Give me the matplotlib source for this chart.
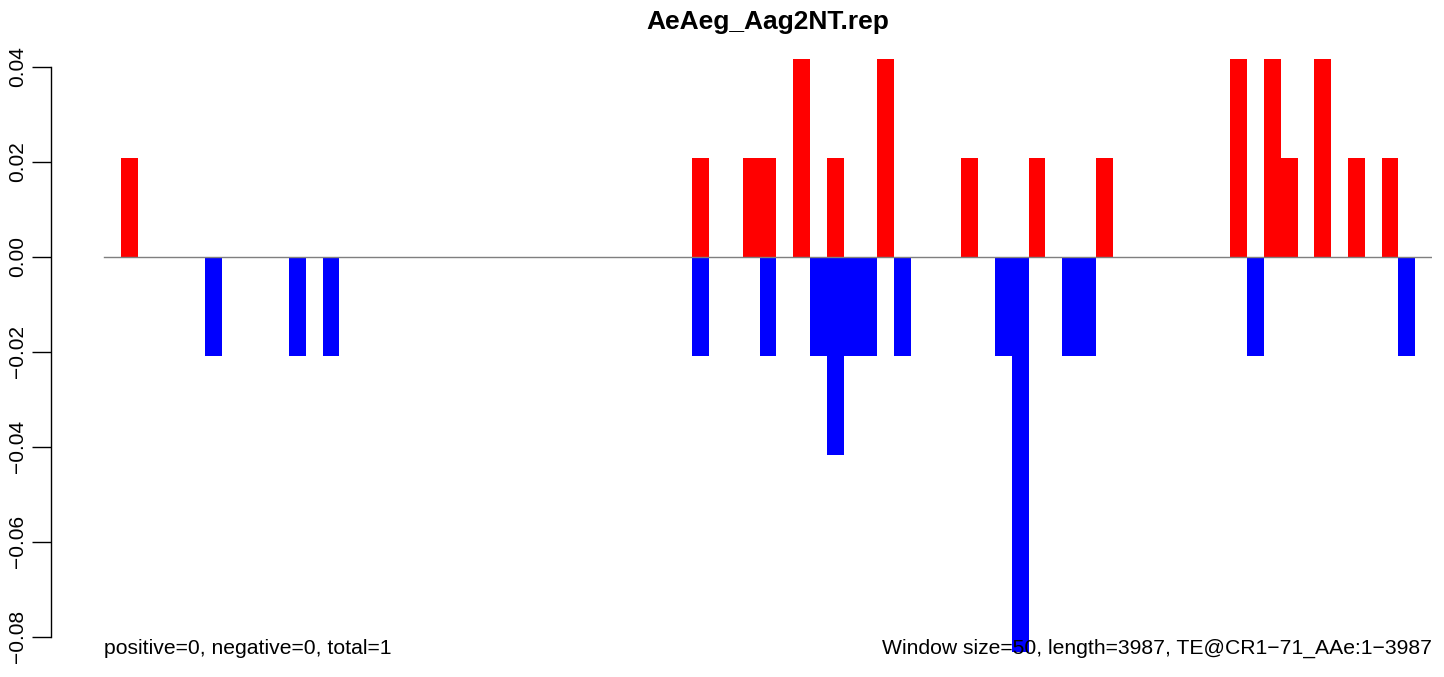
import matplotlib
matplotlib.use('Agg')
import matplotlib.pyplot as plt

plt.rcParams['font.family'] = ['Liberation Sans', 'DejaVu Sans']

# window index (50 bp windows) and values
n_windows = 79
pos_bins = [1, 35, 38, 39, 41, 43, 46, 51, 55, 59, 67, 69, 70, 72, 74, 76]
pos_vals = [0.02083, 0.02083, 0.02083, 0.02083, 0.04167, 0.02083, 0.04167, 0.02083,
            0.02083, 0.02083, 0.04167, 0.04167, 0.02083, 0.04167, 0.02083, 0.02083]
neg_bins = [6, 11, 13, 35, 39, 42, 43, 44, 45, 47, 53, 54, 57, 58, 68, 77]
neg_vals = [-0.02083, -0.02083, -0.02083, -0.02083, -0.02083, -0.02083, -0.04167, -0.02083,
            -0.02083, -0.02083, -0.02083, -0.08333, -0.02083, -0.02083, -0.02083, -0.02083]
yticks = [-0.08, -0.06, -0.04, -0.02, 0.00, 0.02, 0.04]

title = 'AeAeg_Aag2NT.rep'
left_note = 'positive=0, negative=0, total=1'
right_note = 'Window size=50, length=3987, TE@CR1\u221271_AAe:1\u22123987'

W, H = 1444, 677
fig = plt.figure(figsize=(W / 100, H / 100), dpi=100)
# plot region in pixels: x 51..1432, y 35..676
ax = fig.add_axes([51 / W, 1 / H, (1432 - 51) / W, (676 - 35) / H])

ax.bar(pos_bins, pos_vals, width=1, align='edge', color='red', linewidth=0)
ax.bar(neg_bins, neg_vals, width=1, align='edge', color='blue', linewidth=0)
ax.plot([0, n_windows], [0, 0], color='#7f7f7f', linewidth=1)

ax.set_xlim(-53 / 16.81, n_windows)
ax.set_ylim(-0.0883, 0.0467)

for s in ['top', 'right', 'bottom']:
    ax.spines[s].set_visible(False)
ax.spines['left'].set_bounds(-0.08, 0.04)
ax.spines['left'].set_linewidth(1)
ax.set_xticks([])
ax.set_yticks(yticks)
ax.set_yticklabels([f'{v:.2f}'.replace('-', '\u2212') for v in yticks],
                   rotation=90, va='center', fontsize=15)
ax.tick_params(axis='y', length=14, width=1, pad=3)

fig.text(768 / W, 1 - 22 / H, title, ha='center', va='center',
         fontsize=19, fontweight='bold')
fig.text(104 / W, 1 - 648 / H, left_note, ha='left', va='center', fontsize=15.2)
fig.text(1432 / W, 1 - 648 / H, right_note, ha='right', va='center', fontsize=15.2)

fig.savefig('out.png', dpi=100)
